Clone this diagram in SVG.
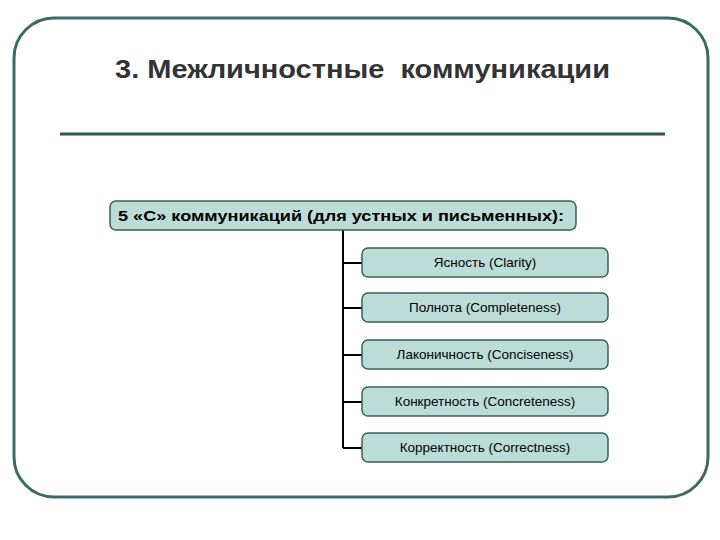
<svg xmlns="http://www.w3.org/2000/svg" width="720" height="540" viewBox="0 0 720 540">
<style>
.box{fill:#bcdcd8;stroke:#3a5f5a;stroke-width:1.5}
.t{font-family:"Liberation Sans",Arial,sans-serif;font-size:13.5px;fill:#000;text-anchor:middle}
.c{stroke:#000;stroke-width:2;fill:none}
</style>
<rect width="720" height="540" fill="#fff"/>
<rect x="14" y="18" width="694" height="479" rx="40" fill="#fff" stroke="#3d6b63" stroke-width="3"/>
<text x="115" y="78" font-family="'Liberation Sans',Arial,sans-serif" font-size="25" font-weight="bold" fill="#333" textLength="495" lengthAdjust="spacingAndGlyphs" xml:space="preserve">3. Межличностные  коммуникации</text>
<line x1="60" y1="134" x2="665" y2="134" stroke="#2f5a45" stroke-width="3"/>
<g id="connectors">
<path class="c" d="M343 230V448M343 263H362M343 308H362M343 355H362M343 402H362M343 448H362"/>
</g>
<g id="root"><rect class="box" x="110" y="201" width="466" height="29" rx="6"/><text x="118" y="221" font-family="'Liberation Sans',Arial,sans-serif" font-weight="bold" font-size="15.5" textLength="446" lengthAdjust="spacingAndGlyphs">5 «С» коммуникаций (для устных и письменных):</text></g>
<g id="n1"><rect class="box" x="362" y="248" width="246" height="29" rx="6"/><text class="t" x="485" y="267">Ясность (Clarity)</text></g>
<g id="n2"><rect class="box" x="362" y="293" width="246" height="29" rx="6"/><text class="t" x="485" y="312">Полнота (Completeness)</text></g>
<g id="n3"><rect class="box" x="362" y="340" width="246" height="29" rx="6"/><text class="t" x="485" y="359">Лаконичность (Conciseness)</text></g>
<g id="n4"><rect class="box" x="362" y="387" width="246" height="29" rx="6"/><text class="t" x="485" y="406">Конкретность (Concreteness)</text></g>
<g id="n5"><rect class="box" x="362" y="433" width="246" height="29" rx="6"/><text class="t" x="485" y="452">Корректность (Correctness)</text></g>
</svg>
